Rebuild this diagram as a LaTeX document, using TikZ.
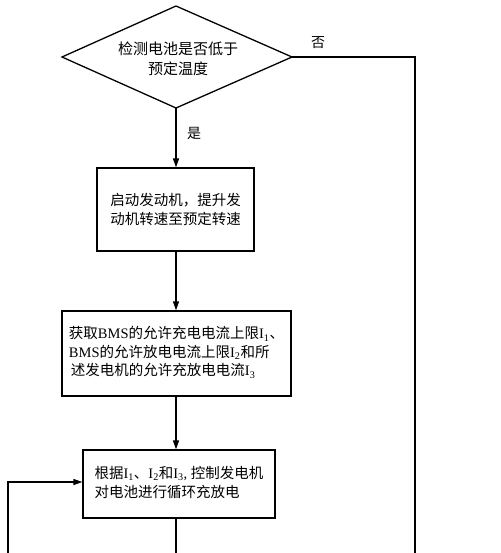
\documentclass[tikz,border=0pt]{standalone}
\usepackage{fontspec}
\setmainfont{Liberation Serif}
\newfontfamily\cjk{Noto Sans CJK SC}
\usetikzlibrary{arrows.meta,shapes.geometric}
\begin{document}
\begin{tikzpicture}[x=1pt,y=-1pt,
  line/.style={line width=1.3pt},
  arr/.style={line, -{Triangle[length=9pt,width=6pt]}},
  boxnode/.style={draw, line width=1.3pt, inner sep=0pt, font=\fontsize{14.5}{19.5}\selectfont},
  lbl/.style={font=\cjk\fontsize{14}{16}\selectfont, inner sep=0pt}]
\useasboundingbox (0,0) rectangle (500,553);
% decision diamond
\coordinate (dt) at (176,6);
\coordinate (dl) at (62,57);
\coordinate (dr) at (292,57);
\coordinate (db) at (176,108);
\draw[line] (dt) -- (dr) -- (db) -- (dl) -- cycle;
\node[lbl, font=\cjk\fontsize{15}{20}\selectfont, align=center] (dtext) at (178,59) {检测电池是否低于\\预定温度};
% boxes
\node[boxnode, minimum width=157pt, minimum height=83pt, align=center] (b1) at (175.5,209.5)
  {\cjk 启动发动机，提升发\\\cjk 动机转速至预定转速};
\node[boxnode, minimum width=229pt, minimum height=85pt] (b2) at (176.5,353.5)
  {\begin{tabular}{@{}l@{}}
   {\cjk 获取}BMS{\cjk 的允许充电电流上限}I\textsubscript{1}{\cjk 、}\\[-1pt]
   BMS{\cjk 的允许放电电流上限}I\textsubscript{2}{\cjk 和所}\\[-1pt]
   \hspace{2pt}{\cjk 述发电机的允许充放电电流}I\textsubscript{3}
   \end{tabular}};
\node[boxnode, minimum width=192pt, minimum height=68pt] (b3) at (179,484)
  {\begin{tabular}{@{}l@{}}
   {\cjk 根据}I\textsubscript{1}{\cjk 、}I\textsubscript{2}{\cjk 和}I\textsubscript{3}, {\cjk 控制发电机}\\[-1pt]
   {\cjk 对电池进行循环充放电}
   \end{tabular}};
% connectors
\draw[arr] (db) -- (db |- b1.north);
\node[lbl] (yes) at (194,133) {是};
\draw[arr] (db |- b1.south) -- (db |- b2.north);
\draw[arr] (db |- b2.south) -- (db |- b3.north);
\coordinate (bend) at (415,57);
\coordinate (noend) at (415,553);
\draw[line] (dr) -- (bend) -- (noend);
\node[lbl] (no) at (318,43) {否};
\coordinate (b3out) at (176,553);
\draw[line] (b3.south -| b3out) -- (b3out);
\coordinate (fbstart) at (8,553);
\coordinate (fbcorner) at (8,482);
\draw[arr] (fbstart) -- (fbcorner) -- (fbcorner -| b3.west);
\end{tikzpicture}
\end{document}
